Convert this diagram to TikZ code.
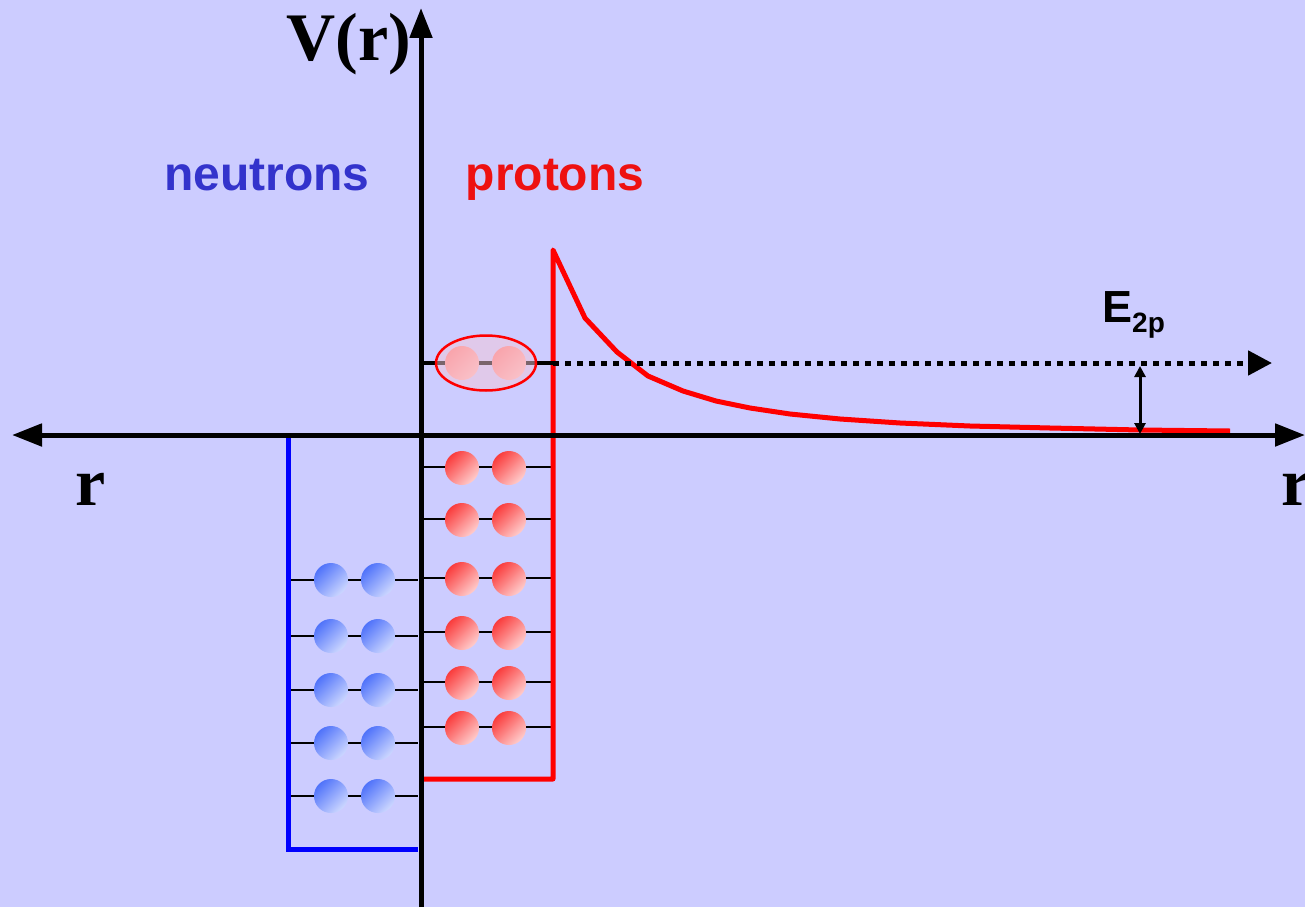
\documentclass[tikz,border=0pt]{standalone}
\usepackage{fontspec}
\setmainfont{Liberation Serif}
\setsansfont{Liberation Sans}
\usetikzlibrary{arrows.meta,shapes.geometric}
\definecolor{bg}{RGB}{204,204,255}
\definecolor{ntext}{RGB}{51,51,204}
\definecolor{ptext}{RGB}{238,17,17}
\definecolor{wellred}{RGB}{255,0,0}
\definecolor{wellblue}{RGB}{0,0,255}
\definecolor{nball1}{RGB}{80,115,250}
\definecolor{nball2}{RGB}{205,215,255}
\definecolor{pball1}{RGB}{250,60,60}
\definecolor{pball2}{RGB}{255,205,205}
\definecolor{eball1}{RGB}{255,130,130}
\definecolor{eball2}{RGB}{255,185,185}
\definecolor{efill}{RGB}{245,200,215}
\tikzset{
  axisline/.style={line width=5pt, black},
  level/.style={line width=2.5pt, black},
  nball/.style={circle, inner sep=0pt, minimum size=34pt, shading=axis, top color=nball1, bottom color=nball2, shading angle=45},
  pball/.style={circle, inner sep=0pt, minimum size=34pt, shading=axis, top color=pball1, bottom color=pball2, shading angle=45},
  eball/.style={circle, inner sep=0pt, minimum size=34pt, shading=axis, top color=eball1, bottom color=eball2, shading angle=45},
  well/.style={line width=5pt, line join=miter},
  bigtip/.style={-{Triangle[length=30pt,width=22pt]}},
}
\begin{document}
\begin{tikzpicture}[x=1pt,y=-1pt]
\useasboundingbox (0,0) rectangle (1305,907);
\fill[bg] (0,0) rectangle (1305,907);

% coordinates
\coordinate (vbot) at (421,907);
\coordinate (vtop) at (421,8);
\coordinate (hleft) at (12,435);
\coordinate (hright) at (1305,435);

% neutron levels
\foreach \y/\n in {580/1,636/2,690/3,743/4,796/5}{
  \coordinate (nl\n) at (288,\y);
  \coordinate (nr\n) at (418,\y);
  \draw[level] (nl\n) -- (nr\n);
  \node[nball] (na\n) at (331,\y) {};
  \node[nball] (nb\n) at (378,\y) {};
}
% proton levels
\foreach \y/\n in {467/1,519/2,578/3,632/4,682/5,727/6}{
  \coordinate (pl\n) at (421,\y);
  \coordinate (pr\n) at (553,\y);
  \draw[level] (pl\n) -- (pr\n);
  \node[pball] (pa\n) at (462,\y+1) {};
  \node[pball] (pb\n) at (509,\y+1) {};
}

% blue well
\coordinate (bw1) at (288,433);
\coordinate (bw2) at (288,849);
\coordinate (bw3) at (418,849);
\draw[well, wellblue] (bw1) -- (bw2) -- (bw3);

% red well + Coulomb tail
\coordinate (rw1) at (423,779);
\coordinate (rw2) at (553,779);
\coordinate (rw3) at (553,250);
\draw[well, wellred, line join=round] (rw1) -- (rw2) -- (rw3)
  -- (585,318) -- (617,352) -- (648,376) -- (683,391) -- (716,401)
  -- (750,408) -- (790,414) -- (840,419) -- (900,423) -- (970,426)
  -- (1050,428) -- (1140,430) -- (1230,431);

% resonance level
\coordinate (el) at (421,363);
\coordinate (er) at (553,363);
\coordinate (etip) at (1272,363);
\draw[level, line width=4pt] (el) -- (er);
\draw[line width=5pt, dash pattern=on 6pt off 6pt, -{Triangle[length=24pt,width=24pt]}] (er) -- (etip);
\node[eball] (ea) at (462,363) {};
\node[eball] (eb) at (509,363) {};
\node[ellipse, draw=wellred, line width=2.5pt, fill=efill, fill opacity=0.5, minimum width=100pt, minimum height=55pt, inner sep=0pt] (pair) at (486,363) {};

% axes
\draw[axisline, bigtip] (vbot) -- (vtop);
\draw[axisline, {Triangle[length=30pt,width=22pt]}-{Triangle[length=30pt,width=22pt]}] (hleft) -- (hright);

% E2p arrow
\coordinate (ea1) at (1140,366);
\coordinate (ea2) at (1140,434);
\draw[line width=3pt, {Triangle[length=11pt,width=11pt]}-{Triangle[length=11pt,width=11pt]}] (ea1) -- (ea2);

% labels
\node[anchor=base, font=\fontsize{68}{68}\selectfont\bfseries] (vlab) at (349,60) {V(r)};
\node[anchor=base, font=\fontsize{68}{68}\selectfont\bfseries] (rleft) at (91,505) {r};
\node[anchor=base west, inner sep=0pt, font=\fontsize{68}{68}\selectfont\bfseries] (rright) at (1281,505) {r};
\node[anchor=base, text=ntext, font=\sffamily\bfseries\fontsize{48}{48}\selectfont] (nlab) at (267,190) {neutrons};
\node[anchor=base, text=ptext, font=\sffamily\bfseries\fontsize{48}{48}\selectfont] (plab) at (555,190) {protons};
\node[anchor=base west, inner sep=0pt, font=\sffamily\bfseries\fontsize{45}{45}\selectfont] (elab) at (1102,322) {E\raisebox{-10pt}{\fontsize{28}{28}\selectfont 2p}};
\end{tikzpicture}
\end{document}
